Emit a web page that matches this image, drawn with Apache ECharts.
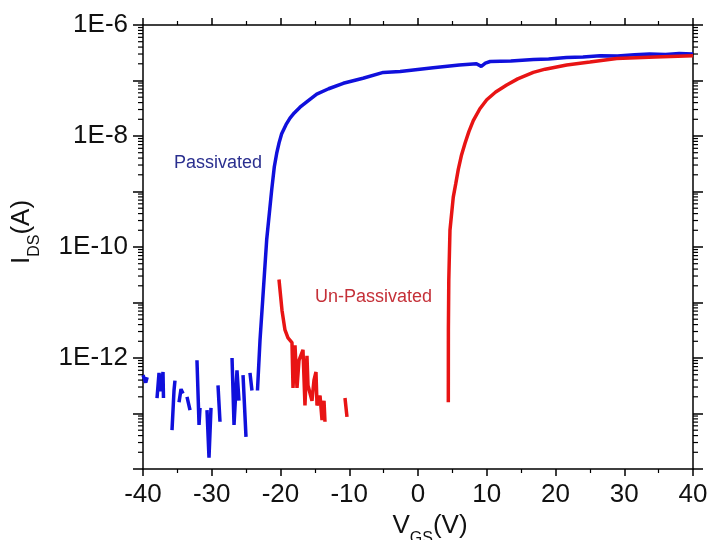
<!DOCTYPE html>
<html><head><meta charset="utf-8">
<script src="https://cdn.jsdelivr.net/npm/echarts@6/dist/echarts.min.js"></script>
<style>html,body{margin:0;padding:0;background:#fff}#c{width:710px;height:540px}</style>
</head><body><div id="c"></div>
<script>
// Passivated device (blue). null = gap in the measured trace
const passVgs = [-40, -39.6, -39.4, null, -37.96, -37.67, -37.38, -37.09, -37.02, null, -35.78, -35.49, -35.35, null, -34.76, -34.47, -34.18, null, -33.6, -33.16, null, -32.15, -31.85, -31.71, null, -30.69, -30.4, -30.11, null, -29.09, -28.8, null, -27.05, -26.76, -26.33, -26.04, null, -25.45, -25.02, null, -24.44, -24.15, null, -23.35, -22.98, -22.59, -22.01, -21.28, -20.9, -20.55, -20.2, -19.83, -19.2, -18.62, -18.0, -17.16, -16.0, -14.73, -13.0, -10.87, -8.0, -5.05, -2.6, 2.2, 6.0, 8.5, 9.2, 9.8, 10.5, 13.5, 16.8, 19.0, 21.6, 24.0, 26.5, 29.0, 31.5, 33.7, 36.0, 38.0, 40];
const passIds = [4.9e-13, 3.6e-13, 4.5e-13, null, 1.9e-13, 5.4e-13, 2.5e-13, 5.6e-13, 1.9e-13, null, 5.0e-14, 2.6e-13, 3.9e-13, null, 1.6e-13, 2.75e-13, 2.3e-13, null, 2.0e-13, 1.15e-13, null, 9.1e-13, 6.2e-14, 1.26e-13, null, 1.15e-13, 1.6e-14, 1.26e-13, null, 3.2e-13, 7.1e-14, null, 1.0e-12, 6.2e-14, 6.0e-13, 1.7e-13, null, 4.9e-13, 3.8e-14, null, 5.4e-13, 2.6e-13, null, 2.6e-13, 2.1e-12, 1.1e-11, 1.35e-10, 1.07e-9, 2.8e-9, 4.9e-9, 7.6e-9, 1.1e-8, 1.6e-8, 2.1e-8, 2.6e-8, 3.3e-8, 4.3e-8, 5.7e-8, 7.1e-8, 8.9e-8, 1.1e-7, 1.4e-7, 1.45e-7, 1.7e-7, 1.9e-7, 2.0e-7, 1.8e-7, 2.05e-7, 2.2e-7, 2.25e-7, 2.4e-7, 2.45e-7, 2.6e-7, 2.65e-7, 2.8e-7, 2.75e-7, 2.9e-7, 3.0e-7, 2.95e-7, 3.05e-7, 3.0e-7];

// Un-passivated device (red)
const unpassVgs = [-20.22, -19.78, -19.35, -18.91, -18.33, -18.18, -17.89, -17.6, -17.31, -16.73, -16.44, -16.15, -16.0, -15.42, -15.13, -14.84, -14.69, -14.25, -13.96, -13.67, -13.53, null, -10.62, -10.33, null, 4.41, 4.42, 4.48, 4.65, 5.13, 5.5, 5.86, 6.3, 6.84, 7.4, 8.04, 9.0, 10.0, 11.3, 12.9, 14.5, 16.77, 18.5, 21.63, 25.0, 28.9, 34.5, 40];
const unpassIds = [2.6e-11, 7.2e-12, 3.2e-12, 2.3e-12, 1.9e-12, 2.9e-13, 1.7e-12, 2.9e-13, 9.1e-13, 1.4e-12, 1.4e-13, 1.1e-12, 3.2e-13, 1.7e-13, 4.0e-13, 5.6e-13, 1.4e-13, 2.1e-13, 7.6e-14, 1.7e-13, 7.1e-14, null, 1.9e-13, 8.7e-14, null, 1.6e-13, 3.2e-12, 2.6e-11, 2.0e-10, 7.9e-10, 1.4e-9, 2.5e-9, 4.4e-9, 7.4e-9, 1.2e-8, 1.9e-8, 3.1e-8, 4.5e-8, 6.2e-8, 8.3e-8, 1.07e-7, 1.4e-7, 1.6e-7, 1.9e-7, 2.15e-7, 2.5e-7, 2.65e-7, 2.8e-7];

const xMin = -40, xMax = 40, xStep = 10;
const yMin = 1e-14, yMax = 1e-6;
const yLabelExps = [-6, -8, -10, -12];
const seriesNames = ['Passivated', 'Un-Passivated'];

const FONT = '"Liberation Sans", Arial, sans-serif';

function pairs(xs, ys) {
  return xs.map((x, i) => (x === null || ys[i] === null) ? ['-', '-'] : [x, ys[i]]);
}

// log minor ticks (2..9 × 10^n) drawn on both vertical axes
const minorVals = [];
for (let e = -14; e < -6; e++) for (let k = 2; k <= 9; k++) minorVals.push([xMin, k * Math.pow(10, e)]);

const chart = echarts.init(document.getElementById('c'), null, {renderer: 'canvas'});

const axisLineStyle = {color: '#000', width: 1.5};
const yLabelFmt = v => {
  const e = Math.round(Math.log10(v));
  return yLabelExps.includes(e) ? '1E' + e : '';
};

chart.setOption({
  animation: false,
  backgroundColor: '#fff',
  grid: {left: 143, right: 17, top: 25, bottom: 71, containLabel: false, outerBoundsMode: 'none'},
  xAxis: [{
    type: 'value', min: xMin, max: xMax, interval: xStep, position: 'bottom',
    axisLine: {show: true, onZero: false, lineStyle: axisLineStyle},
    axisTick: {show: true, length: 7, lineStyle: {color: '#000', width: 1.5}},
    minorTick: {show: true, splitNumber: 2, length: 4, lineStyle: {color: '#000', width: 1.2}},
    splitLine: {show: false},
    axisLabel: {fontSize: 26, fontFamily: FONT, color: '#111', margin: 13},
    name: '{a|V}{b|GS}{a|(V)}', nameLocation: 'middle', nameGap: 38,
    nameTextStyle: {padding: [0, 0, 0, 24], rich: {
      a: {fontSize: 26, fontFamily: FONT, color: '#111', padding: [0, 0, 8, 0]},
      b: {fontSize: 16, fontFamily: FONT, color: '#111', verticalAlign: 'bottom'}
    }}
  }, {
    type: 'value', min: xMin, max: xMax, interval: xStep, position: 'top',
    axisLine: {show: true, onZero: false, lineStyle: axisLineStyle},
    axisTick: {show: true, length: 7, lineStyle: {color: '#000', width: 1.5}},
    minorTick: {show: true, splitNumber: 2, length: 4, lineStyle: {color: '#000', width: 1.2}},
    splitLine: {show: false}, axisLabel: {show: false}
  }],
  yAxis: [{
    type: 'log', logBase: 10, min: yMin, max: yMax, splitNumber: 8, position: 'left',
    axisLine: {show: true, onZero: false, lineStyle: axisLineStyle},
    axisTick: {show: true, length: 10, lineStyle: {color: '#000', width: 1.5}},
    splitLine: {show: false},
    axisLabel: {fontSize: 26, fontFamily: FONT, color: '#111', margin: 15, formatter: yLabelFmt},
    name: '{a|I}{b|DS}{a|(A)}', nameLocation: 'middle', nameRotate: 90, nameGap: 100,
    nameTextStyle: {padding: [0, 0, 0, 30], rich: {
      a: {fontSize: 26, fontFamily: FONT, color: '#111', padding: [0, 0, 8, 0]},
      b: {fontSize: 16, fontFamily: FONT, color: '#111', verticalAlign: 'bottom'}
    }}
  }, {
    type: 'log', logBase: 10, min: yMin, max: yMax, splitNumber: 8, position: 'right',
    axisLine: {show: true, onZero: false, lineStyle: axisLineStyle},
    axisTick: {show: true, length: 10, lineStyle: {color: '#000', width: 1.5}},
    splitLine: {show: false}, axisLabel: {show: false}
  }],
  series: [{
    name: seriesNames[0], type: 'line', data: pairs(passVgs, passIds),
    showSymbol: false, symbol: 'none', connectNulls: false,
    lineStyle: {color: '#1010dc', width: 3.5}, itemStyle: {color: '#1010dc'}, z: 3
  }, {
    name: seriesNames[1], type: 'line', data: pairs(unpassVgs, unpassIds),
    showSymbol: false, symbol: 'none', connectNulls: false,
    lineStyle: {color: '#e81414', width: 3.5}, itemStyle: {color: '#e81414'}, z: 4
  }, {
    type: 'custom', silent: true, clip: false, z: 5,
    data: minorVals,
    renderItem: function (params, api) {
      const pl = api.coord([xMin, api.value(1)]);
      const pr = api.coord([xMax, api.value(1)]);
      const st = {stroke: '#000', lineWidth: 1.2};
      return {type: 'group', children: [
        {type: 'line', shape: {x1: pl[0] - 5, y1: pl[1], x2: pl[0], y2: pl[1]}, style: st},
        {type: 'line', shape: {x1: pr[0], y1: pr[1], x2: pr[0] + 5, y2: pr[1]}, style: st}
      ]};
    }
  }],
  graphic: [
    {type: 'text', x: 174, y: 163, style: {text: seriesNames[0], font: '18px ' + FONT, fill: '#2a2f8f', verticalAlign: 'middle'}},
    {type: 'text', x: 315, y: 297, style: {text: seriesNames[1], font: '18px ' + FONT, fill: '#c53038', verticalAlign: 'middle'}}
  ]
});
</script>
</body></html>
